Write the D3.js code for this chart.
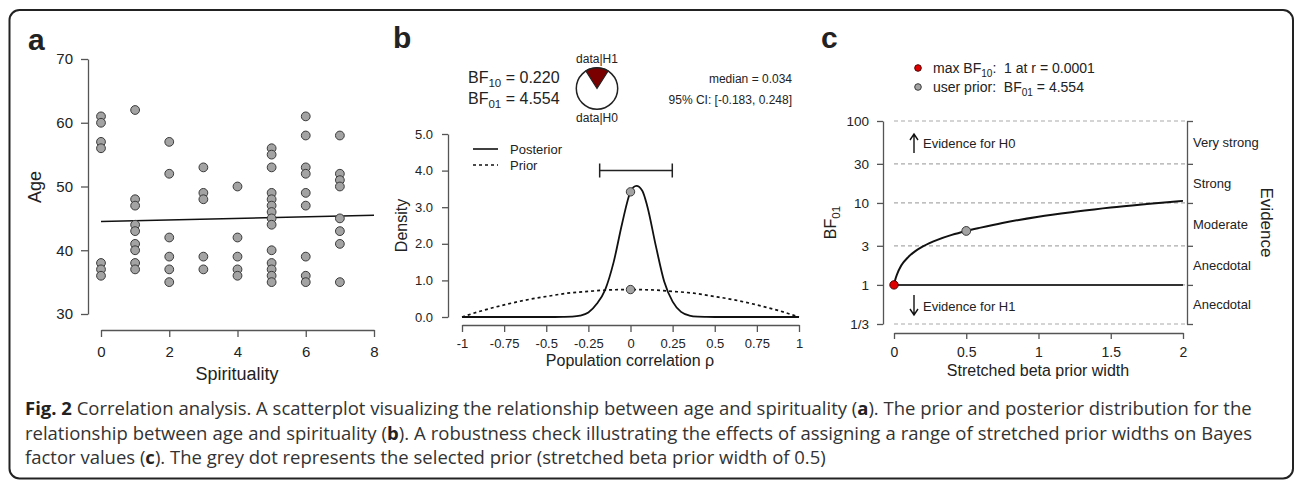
<!DOCTYPE html>
<html>
<head>
<meta charset="utf-8">
<script src="https://cdn.jsdelivr.net/npm/d3@7"></script>
<style>
    body { margin: 0; background: #fff; }
    text { font-family: "Liberation Sans", Arial, Helvetica, sans-serif; fill: #222; }
    .caption text { font-family: "Open Sans", "Noto Sans", sans-serif; fill: #333; }
</style>
</head>
<body>
<div id="chart"></div>
<script>
//****************************************************************************************
// Fig. 2: correlation analysis (scatter, prior/posterior, robustness check)
//****************************************************************************************

// Panel a: scatterplot of age against spirituality
const spirituality = [
    0, 0, 0, 0, 0, 0, 0,
    1, 1, 1, 1, 1, 1, 1, 1, 1,
    2, 2, 2, 2, 2, 2,
    3, 3, 3, 3, 3,
    4, 4, 4, 4, 4,
    5, 5, 5, 5, 5, 5, 5, 5, 5, 5, 5, 5, 5, 5,
    6, 6, 6, 6, 6, 6, 6, 6, 6,
    7, 7, 7, 7, 7, 7, 7, 7
];
const age = [
    61, 60, 57, 56, 38, 37, 36,
    62, 48, 47, 44, 43, 41, 40, 38, 37,
    57, 52, 42, 39, 37, 35,
    53, 49, 48, 39, 37,
    50, 42, 39, 37, 36,
    56, 55, 53, 49, 48, 47, 46, 45, 44, 40, 38, 37, 36, 35,
    61, 58, 53, 52, 49, 47, 39, 36, 35,
    58, 52, 51, 50, 45, 43, 41, 35
];
const fitX = [0, 8];
const fitAge = [44.5, 45.5];
const aTicksX = [0, 2, 4, 6, 8];
const aTicksY = [30, 40, 50, 60, 70];

// Panel b: prior and posterior for rho
const posteriorRho = [-1, -0.6, -0.45, -0.4, -0.35, -0.3, -0.25, -0.2, -0.15, -0.1, -0.05, 0,
    0.035, 0.07, 0.1, 0.15, 0.2, 0.25, 0.3, 0.35, 0.4, 0.45, 0.5, 0.6, 1];
const posteriorDensity = [0, 0, 0, 0.003, 0.01, 0.035, 0.12, 0.36, 0.75, 1.5, 2.55, 3.42,
    3.58, 3.45, 3.02, 1.95, 0.97, 0.42, 0.14, 0.04, 0.01, 0.003, 0, 0, 0];
const priorRho = [-1, -0.875, -0.75, -0.625, -0.5, -0.375, -0.25, -0.125, 0,
    0.125, 0.25, 0.375, 0.5, 0.625, 0.75, 0.875, 1];
const priorDensity = [0, 0.18, 0.33, 0.46, 0.56, 0.65, 0.70, 0.74, 0.75,
    0.74, 0.70, 0.65, 0.56, 0.46, 0.33, 0.18, 0];
const bf10 = 0.220;
const bf01 = 4.554;
const ciLower = -0.183;
const ciUpper = 0.248;
const ciDensity = 4.0;
const bTicksX = [-1, -0.75, -0.5, -0.25, 0, 0.25, 0.5, 0.75, 1];
const bTicksY = [0, 1, 2, 3, 4, 5];

// Panel c: robustness check over stretched beta prior widths
const priorWidth = [0, 0.01, 0.02, 0.05, 0.1, 0.15, 0.2, 0.3, 0.4, 0.5, 0.6, 0.75, 1, 1.25, 1.5, 1.75, 2];
const bfWidth = [1, 1.18, 1.33, 1.72, 2.2, 2.6, 2.95, 3.55, 4.08, 4.554, 5.0, 5.7, 6.8, 7.8, 8.8, 9.7, 10.6];
const maxBfWidth = 0.0001;
const userWidth = 0.5;
const cTicksX = [0, 0.5, 1, 1.5, 2];
const cTicksY = [1 / 3, 1, 3, 10, 30, 100];
const cTickLabelsY = ["1/3", "1", "3", "10", "30", "100"];
const evidenceBands = [[30, 100], [10, 30], [3, 10], [1, 3], [1 / 3, 1]];
const evidenceLabels = ["Very strong", "Strong", "Moderate", "Anecdotal", "Anecdotal"];

// Base svg
// --------
const W = 1296, H = 482;
const AXIS = "#555";
const PT_FILL = "#a3a3a3", PT_STROKE = "#3a3a3a";

const svg = d3.select("#chart").append("svg")
    .attr("xmlns", "http://www.w3.org/2000/svg")
    .attr("width", W)
    .attr("height", H);

svg.append("rect")
    .attr("width", W)
    .attr("height", H)
    .style("fill", "white");

// frame round the whole figure
svg.append("rect")
    .attr("x", 9.5)
    .attr("y", 10)
    .attr("width", 1283.5)
    .attr("height", 468.5)
    .attr("rx", 10)
    .attr("fill", "none")
    .attr("stroke", "#222")
    .attr("stroke-width", 2);

// style an axis group after d3 has drawn it
function styleAxis(g, size) {
    g.attr("font-family", null).attr("font-size", size);
    g.selectAll("path, line").attr("stroke", AXIS).attr("stroke-width", 1.3);
    g.selectAll("text").attr("fill", "#222");
    return g;
}

function panelLabel(txt, x, y) {
    svg.append("text")
        .attr("x", x)
        .attr("y", y)
        .attr("font-size", 30)
        .attr("font-weight", "bold")
        .attr("fill", "#111")
        .text(txt);
}

// text with a subscript part, e.g. BF_10
function subText(sel, before, sub, after, size) {
    sel.append("tspan").text(before);
    sel.append("tspan").attr("font-size", size * 0.72).attr("dy", size * 0.28).text(sub);
    sel.append("tspan").attr("dy", -size * 0.28).text(after);
    return sel;
}

//****************************************************************************************
// Panel a
//****************************************************************************************
const xA = d3.scaleLinear().domain([0, 8]).range([101, 374]);
const yA = d3.scaleLinear().domain([30, 70]).range([314, 59]);
const gA = svg.append("g").attr("class", "panel-a");

panelLabel("a", 28, 50);

gA.append("g")
    .attr("transform", "translate(0,330)")
    .call(d3.axisBottom(xA).tickValues(aTicksX).tickFormat(String)
        .tickSize(7).tickSizeOuter(0).tickPadding(9))
    .call(styleAxis, 15);

gA.append("g")
    .attr("transform", "translate(88,0)")
    .call(d3.axisLeft(yA).tickValues(aTicksY).tickFormat(String)
        .tickSize(7).tickSizeOuter(0).tickPadding(8))
    .call(styleAxis, 15);

gA.append("line")
    .attr("x1", xA(fitX[0])).attr("y1", yA(fitAge[0]))
    .attr("x2", xA(fitX[1])).attr("y2", yA(fitAge[1]))
    .attr("stroke", "#111")
    .attr("stroke-width", 1.6);

gA.selectAll("circle.pt")
    .data(d3.zip(spirituality, age))
    .join("circle")
    .attr("class", "pt")
    .attr("cx", d => xA(d[0]))
    .attr("cy", d => yA(d[1]))
    .attr("r", 4.4)
    .attr("fill", PT_FILL)
    .attr("stroke", PT_STROKE)
    .attr("stroke-width", 1);

gA.append("text")
    .attr("x", 237).attr("y", 380)
    .attr("text-anchor", "middle")
    .attr("font-size", 18)
    .text("Spirituality");

gA.append("text")
    .attr("transform", "translate(41,187) rotate(-90)")
    .attr("text-anchor", "middle")
    .attr("font-size", 18)
    .text("Age");

//****************************************************************************************
// Panel b
//****************************************************************************************
const xB = d3.scaleLinear().domain([-1, 1]).range([462, 799]);
const yB = d3.scaleLinear().domain([0, 5]).range([317, 134]);
const gB = svg.append("g").attr("class", "panel-b");

panelLabel("b", 393, 48);

gB.append("g")
    .attr("transform", "translate(0,325)")
    .call(d3.axisBottom(xB).tickValues(bTicksX).tickFormat(String)
        .tickSize(7).tickSizeOuter(0).tickPadding(7))
    .call(styleAxis, 13);

gB.append("g")
    .attr("transform", "translate(448,0)")
    .call(d3.axisLeft(yB).tickValues(bTicksY).tickFormat(d3.format(".1f"))
        .tickSize(6).tickSizeOuter(0).tickPadding(9))
    .call(styleAxis, 13);

const lineB = d3.line()
    .x(d => xB(d[0]))
    .y(d => yB(d[1]))
    .curve(d3.curveMonotoneX);

gB.append("path")
    .attr("d", lineB(d3.zip(priorRho, priorDensity)))
    .attr("fill", "none")
    .attr("stroke", "#111")
    .attr("stroke-width", 1.7)
    .attr("stroke-dasharray", "3,3");

gB.append("path")
    .attr("d", lineB(d3.zip(posteriorRho, posteriorDensity)))
    .attr("fill", "none")
    .attr("stroke", "#111")
    .attr("stroke-width", 1.8);

// credible interval bar
const ciY = yB(ciDensity);
gB.append("path")
    .attr("d", `M${xB(ciLower)},${ciY}H${xB(ciUpper)}`
        + `M${xB(ciLower)},${ciY - 7}V${ciY + 7}M${xB(ciUpper)},${ciY - 7}V${ciY + 7}`)
    .attr("stroke", "#222")
    .attr("stroke-width", 1.5)
    .attr("fill", "none");

// densities at rho = 0
const post0 = posteriorDensity[posteriorRho.indexOf(0)];
const prior0 = priorDensity[priorRho.indexOf(0)];
gB.selectAll("circle.sd")
    .data([post0, prior0])
    .join("circle")
    .attr("class", "sd")
    .attr("cx", xB(0))
    .attr("cy", d => yB(d))
    .attr("r", 4.2)
    .attr("fill", PT_FILL)
    .attr("stroke", PT_STROKE);

// legend
const legB = [["Posterior", null, 149], ["Prior", "3,3", 165]];
legB.forEach(([lab, dash, y]) => {
    gB.append("line")
        .attr("x1", 473).attr("x2", 498)
        .attr("y1", y).attr("y2", y)
        .attr("stroke", "#111")
        .attr("stroke-width", 1.6)
        .attr("stroke-dasharray", dash);
    gB.append("text")
        .attr("x", 510).attr("y", y + 4.5)
        .attr("font-size", 13)
        .text(lab);
});

// Bayes factors
subText(gB.append("text").attr("x", 468).attr("y", 83).attr("font-size", 16),
    "BF", "10", " = " + bf10.toFixed(3), 16);
subText(gB.append("text").attr("x", 468).attr("y", 104).attr("font-size", 16),
    "BF", "01", " = " + bf01.toFixed(3), 16);

// pie chart of data|H1 vs data|H0
const pieC = { x: 597, y: 88.5, r: 20.7 };
const pH1 = bf10 / (1 + bf10);
const gPie = gB.append("g").attr("transform", `translate(${pieC.x},${pieC.y})`);
gPie.append("circle")
    .attr("r", pieC.r)
    .attr("fill", "white")
    .attr("stroke", "#222")
    .attr("stroke-width", 1.5);
gPie.append("path")
    .attr("d", d3.arc()({ innerRadius: 0, outerRadius: pieC.r, startAngle: -Math.PI * pH1, endAngle: Math.PI * pH1 }))
    .attr("fill", "#7a0000")
    .attr("stroke", "#222")
    .attr("stroke-width", 1.2);
gB.append("text")
    .attr("x", pieC.x).attr("y", 63)
    .attr("text-anchor", "middle")
    .attr("font-size", 12)
    .text("data|H1");
gB.append("text")
    .attr("x", pieC.x).attr("y", 122)
    .attr("text-anchor", "middle")
    .attr("font-size", 12)
    .text("data|H0");

gB.append("text")
    .attr("x", 792).attr("y", 83)
    .attr("text-anchor", "end")
    .attr("font-size", 12)
    .text("median = 0.034");
gB.append("text")
    .attr("x", 792).attr("y", 104)
    .attr("text-anchor", "end")
    .attr("font-size", 12)
    .text(`95% CI: [${ciLower.toFixed(3)}, ${ciUpper.toFixed(3)}]`);

gB.append("text")
    .attr("x", 630).attr("y", 366)
    .attr("text-anchor", "middle")
    .attr("font-size", 16)
    .text("Population correlation \u03C1");

gB.append("text")
    .attr("transform", "translate(407,225.5) rotate(-90)")
    .attr("text-anchor", "middle")
    .attr("font-size", 16)
    .text("Density");

//****************************************************************************************
// Panel c
//****************************************************************************************
const xC = d3.scaleLinear().domain([0, 2]).range([894, 1183]);
const yC = d3.scaleLog().domain([1 / 3, 100]).range([324, 121]);
const gC = svg.append("g").attr("class", "panel-c");
const rightX = 1187;

panelLabel("c", 821, 48);

// dashed evidence thresholds
gC.selectAll("line.grid")
    .data(cTicksY)
    .join("line")
    .attr("class", "grid")
    .attr("x1", xC(0)).attr("x2", rightX)
    .attr("y1", d => yC(d)).attr("y2", d => yC(d))
    .attr("stroke", "#aaa")
    .attr("stroke-width", 1.2)
    .attr("stroke-dasharray", "4,3");

gC.append("line")
    .attr("x1", xC(0)).attr("x2", xC(2))
    .attr("y1", yC(1)).attr("y2", yC(1))
    .attr("stroke", "#333")
    .attr("stroke-width", 2);

gC.append("g")
    .attr("transform", "translate(0,333)")
    .call(d3.axisBottom(xC).tickValues(cTicksX).tickFormat(String)
        .tickSize(6).tickSizeOuter(0).tickPadding(8))
    .call(styleAxis, 14);

gC.append("g")
    .attr("transform", "translate(883,0)")
    .call(d3.axisLeft(yC).tickValues(cTicksY).tickFormat((d, i) => cTickLabelsY[i])
        .tickSize(6).tickSizeOuter(0).tickPadding(8))
    .call(styleAxis, 13.5);

gC.append("g")
    .attr("transform", `translate(${rightX},0)`)
    .call(d3.axisRight(yC).tickValues(cTicksY).tickFormat("")
        .tickSize(6).tickSizeOuter(0))
    .call(styleAxis, 13);

gC.selectAll("text.band")
    .data(evidenceBands)
    .join("text")
    .attr("class", "band")
    .attr("x", 1193)
    .attr("y", d => yC(Math.sqrt(d[0] * d[1])) + 4.5)
    .attr("font-size", 13)
    .text((d, i) => evidenceLabels[i]);

const lineC = d3.line()
    .x(d => xC(d[0]))
    .y(d => yC(d[1]))
    .curve(d3.curveMonotoneX);

gC.append("path")
    .attr("d", lineC(d3.zip(priorWidth, bfWidth)))
    .attr("fill", "none")
    .attr("stroke", "#111")
    .attr("stroke-width", 2);

gC.append("circle")
    .attr("cx", xC(maxBfWidth)).attr("cy", yC(1))
    .attr("r", 4.2)
    .attr("fill", "#e00000")
    .attr("stroke", "#500");

gC.append("circle")
    .attr("cx", xC(userWidth)).attr("cy", yC(bf01))
    .attr("r", 4.4)
    .attr("fill", PT_FILL)
    .attr("stroke", PT_STROKE);

// evidence direction arrows
function arrow(x, y0, y1) {
    const dir = y1 < y0 ? 1 : -1;
    gC.append("path")
        .attr("d", `M${x},${y0}V${y1}M${x - 4},${y1 + dir * 6}L${x},${y1}L${x + 4},${y1 + dir * 6}`)
        .attr("fill", "none")
        .attr("stroke", "#111")
        .attr("stroke-width", 1.4);
}
arrow(914, 153, 134);
arrow(914, 295, 315);
gC.append("text").attr("x", 923).attr("y", 147.5).attr("font-size", 13).text("Evidence for H0");
gC.append("text").attr("x", 923).attr("y", 310.5).attr("font-size", 13).text("Evidence for H1");

// legend
gC.append("circle").attr("cx", 918).attr("cy", 68).attr("r", 3.3)
    .attr("fill", "#e00000").attr("stroke", "#500");
gC.append("circle").attr("cx", 918).attr("cy", 87).attr("r", 3.3)
    .attr("fill", PT_FILL).attr("stroke", PT_STROKE);
subText(gC.append("text").attr("x", 933).attr("y", 73).attr("font-size", 14).style("white-space", "pre"),
    "max BF", "10", ":  1 at r = " + maxBfWidth, 14);
subText(gC.append("text").attr("x", 933).attr("y", 92).attr("font-size", 14).style("white-space", "pre"),
    "user prior:  BF", "01", " = " + bf01.toFixed(3), 14);

gC.append("text")
    .attr("x", 1038).attr("y", 376)
    .attr("text-anchor", "middle")
    .attr("font-size", 16)
    .text("Stretched beta prior width");

subText(gC.append("text")
    .attr("transform", "translate(836,222.5) rotate(-90)")
    .attr("text-anchor", "middle")
    .attr("font-size", 16), "BF", "01", "", 16);

gC.append("text")
    .attr("transform", "translate(1261,222.5) rotate(90)")
    .attr("text-anchor", "middle")
    .attr("font-size", 17)
    .text("Evidence");

//****************************************************************************************
// Caption
//****************************************************************************************
const captionLines = [
    [["Fig. 2", true], [" Correlation analysis. A scatterplot visualizing the relationship between age and spirituality (", false],
        ["a", true], ["). The prior and posterior distribution for the", false]],
    [["relationship between age and spirituality (", false], ["b", true],
        ["). A robustness check illustrating the effects of assigning a range of stretched prior widths on Bayes", false]],
    [["factor values (", false], ["c", true],
        ["). The grey dot represents the selected prior (stretched beta prior width of 0.5)", false]]
];
const capX = 25, capRight = 1252, capY = [415, 440, 464];
const gCap = svg.append("g").attr("class", "caption");

const capTexts = captionLines.map((parts, i) => {
    const t = gCap.append("text").attr("x", capX).attr("y", capY[i]).attr("font-size", 18);
    parts.forEach(([s, bold]) => {
        t.append("tspan")
            .attr("font-weight", bold ? "bold" : null)
            .attr("fill", bold ? "#222" : null)
            .text(s);
    });
    return t;
});

// fit the first line to the text block width, the others follow;
// the second line is justified by a small word spacing if needed
const natural = capTexts[0].node().getComputedTextLength();
const capSize = 18 * (capRight - capX) / natural;
capTexts.forEach(t => t.attr("font-size", capSize));
const w2 = capTexts[1].node().getComputedTextLength();
const spaces2 = captionLines[1].map(p => p[0]).join("").split(" ").length - 1;
if (Math.abs(w2 - (capRight - capX)) < 40) {
    capTexts[1].style("word-spacing", ((capRight - capX - w2) / spaces2) + "px");
}
</script>
</body>
</html>
